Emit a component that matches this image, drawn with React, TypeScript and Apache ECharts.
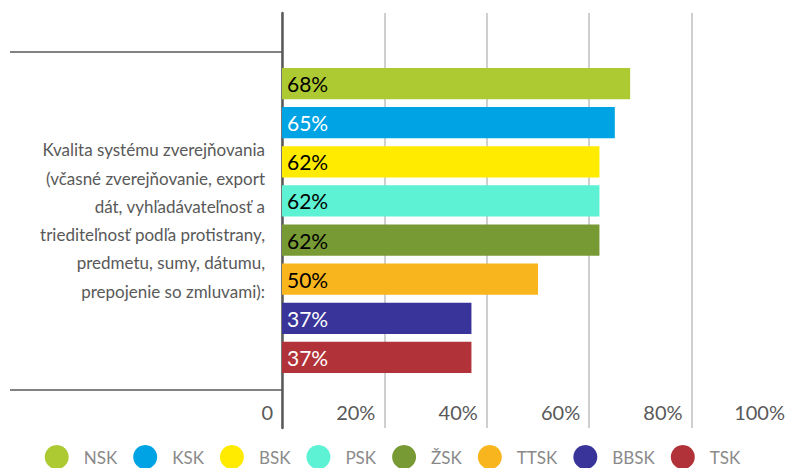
import React, { useEffect, useRef } from "react";
import * as echarts from "echarts";

const categories = [
  "Kvalita systému zverejňovania\n(včasné zverejňovanie, export\ndát, vyhľadávateľnosť a\ntriediteľnosť podľa protistrany,\npredmetu, sumy, dátumu,\nprepojenie so zmluvami):",
];
const seriesNames = ["NSK", "KSK", "BSK", "PSK", "ŽSK", "TTSK", "BBSK", "TSK"];
const seriesValues = [0.68, 0.65, 0.62, 0.62, 0.62, 0.5, 0.37, 0.37];
const seriesColors = ["#AECA33", "#00A3E3", "#FFEB00", "#5EF2D4", "#789A35", "#F9B51E", "#39349A", "#B13238"];
const labelColors = ["#000000", "#FFFFFF", "#000000", "#000000", "#000000", "#000000", "#FFFFFF", "#FFFFFF"];
const tickLabels = ["0", "20%", "40%", "60%", "80%", "100%"];

const FONT = "Lato, 'Liberation Sans', sans-serif";

export default function App() {
  const ref = useRef<HTMLDivElement>(null);
  useEffect(() => {
    if (!ref.current) return;
    const chart = echarts.init(ref.current, undefined, { renderer: "svg" });
    const option: any = {
      animation: false,
      backgroundColor: "#ffffff",
      textStyle: { fontFamily: FONT },
      legend: {
        data: seriesNames,
        top: 440,
        left: "center",
        icon: "circle",
        itemWidth: 24,
        itemHeight: 24,
        itemGap: 16,
        textStyle: { fontFamily: FONT, fontSize: 17, lineHeight: 18, color: "#8A8A8A", padding: [0, 0, 0, 10] },
      },
      grid: [
        { left: 282, top: 13, width: 512, height: 415, outerBoundsMode: "none", containLabel: false },
        { left: 282, top: 52, width: 512, height: 338, outerBoundsMode: "none", containLabel: false },
      ],
      xAxis: [
        {
          type: "value",
          gridIndex: 0,
          min: 0,
          max: 1,
          interval: 0.2,
          axisLine: { show: false },
          axisTick: { show: false },
          splitLine: { show: true, lineStyle: { color: "#BFBFBF", width: 1.5 } },
          axisLabel: {
            inside: true,
            margin: 6,
            align: "right",
            padding: [0, 9, 0, 0],
            color: "#595959",
            fontFamily: FONT,
            fontSize: 20,
            showMaxLabel: true,
            showMinLabel: true,
            formatter: (v: number) => tickLabels[Math.round(v / 0.2)],
          },
        },
        {
          type: "value",
          gridIndex: 1,
          min: 0,
          max: 1,
          show: false,
        },
      ],
      yAxis: [
        {
          type: "category",
          gridIndex: 0,
          data: categories,
          axisLine: { show: true, lineStyle: { color: "#595959", width: 2.5 } },
          axisTick: { show: false },
          axisLabel: {
            margin: 17,
            color: "#595959",
            fontFamily: FONT,
            fontSize: 17,
            lineHeight: 28.3,
            align: "right",
          },
        },
        {
          type: "category",
          gridIndex: 1,
          data: categories,
          axisLine: { show: false },
          axisLabel: { show: false },
          axisTick: { show: true, length: 272, lineStyle: { color: "#595959", width: 1.5 } },
        },
      ],
      series: seriesNames.map((name, i) => ({
        name,
        type: "bar",
        xAxisIndex: 0,
        yAxisIndex: 0,
        data: [seriesValues[i]],
        barWidth: 31.3,
        barGap: "25%",
        itemStyle: { color: seriesColors[i] },
        label: {
          show: true,
          position: "insideLeft",
          distance: 5,
          color: labelColors[i],
          fontFamily: FONT,
          fontSize: 21,
          formatter: () => Math.round(seriesValues[i] * 100) + "%",
        },
      })),
    };
    chart.setOption(option);
    return () => chart.dispose();
  }, []);
  return <div ref={ref} style={{ width: 785, height: 468, position: "absolute", left: 0, top: 0 }} />;
}
